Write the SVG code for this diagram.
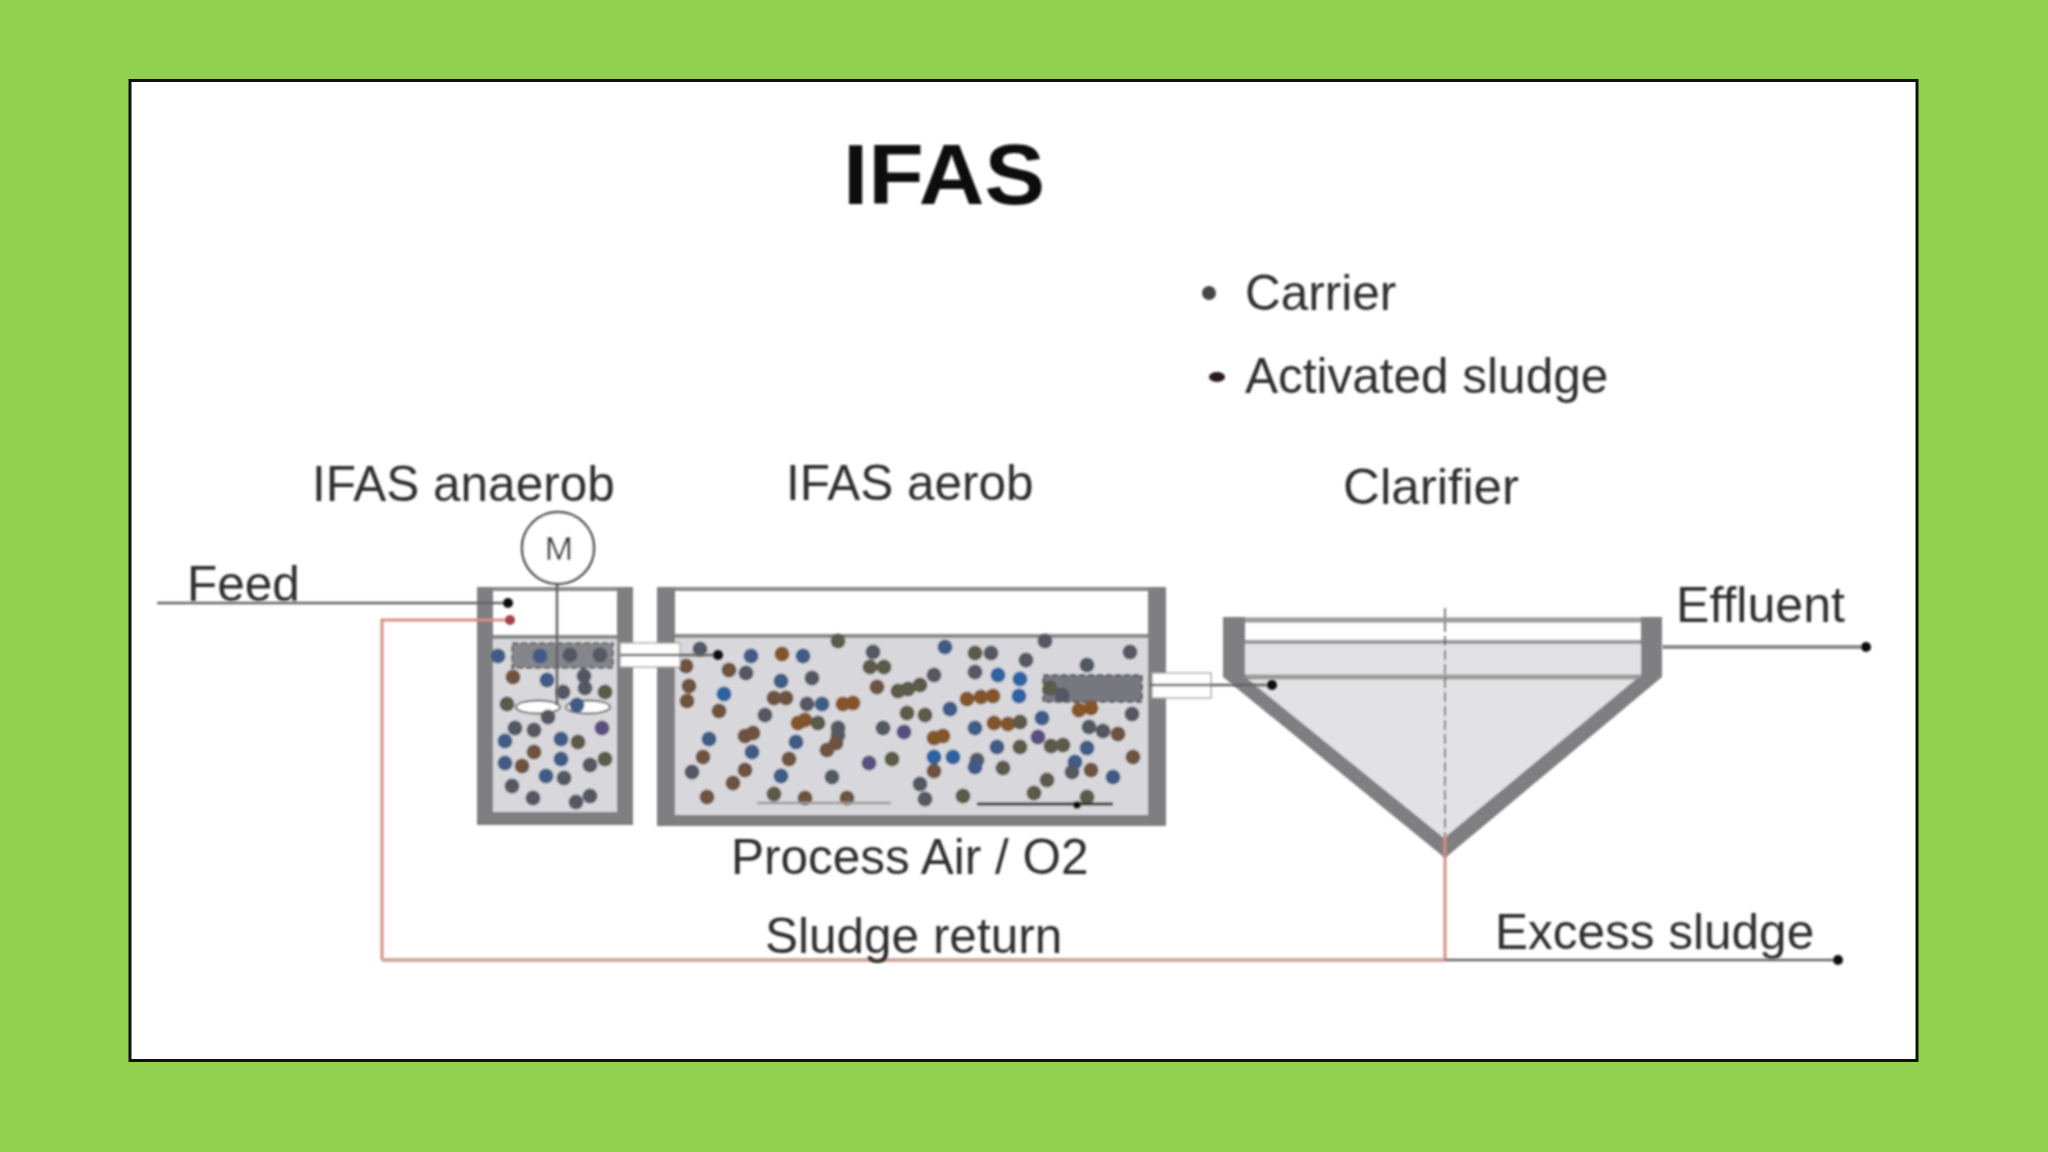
<svg xmlns="http://www.w3.org/2000/svg" width="2048" height="1152" viewBox="0 0 2048 1152">
<style>
text{font-family:"Liberation Sans",Arial,sans-serif;fill:#2e2e2e;font-size:49.500px}
.wall{fill:#7f7f82}
.water{fill:#d8d8dc}
.ln{stroke:#8a8a8a;stroke-width:4;fill:none}
.thin{stroke:#666;stroke-width:2.5;fill:none}
.ret{stroke:#d68f82;stroke-width:3;fill:none}
.head{fill:#111}
.br{fill:#6e5240}.bl{fill:#3f5c86}.g{fill:#545962}.o{fill:#5c5a48}.p{fill:#5a5080}.or{fill:#85552c}.bb{fill:#2f62a0}
.dots circle{r:7.5px}
</style>
<defs><filter id="soft" x="-5%" y="-5%" width="110%" height="110%"><feGaussianBlur stdDeviation="0.9"/></filter></defs>
<rect id="background" width="2048" height="1152" fill="#92d050"/>
<rect id="frame" x="130" y="80.500" width="1787" height="980" fill="#fff" stroke="#111" stroke-width="3"/>
<text id="title" x="843" y="204" textLength="202" lengthAdjust="spacingAndGlyphs" filter="url(#soft)" style="font-size:86px;font-weight:bold;fill:#111">IFAS</text>
<g id="legend" filter="url(#soft)">
<circle cx="1209" cy="293" r="7" fill="#444"/>
<text x="1245" y="310">Carrier</text>
<ellipse cx="1217" cy="377" rx="8" ry="5" fill="#2a1522"/>
<text x="1245" y="393">Activated sludge</text>
</g>
<g id="anaerob-tank" filter="url(#soft)">
<rect class="water" x="490" y="637" width="130" height="178"/>
<path class="ln" d="M493 589H617M493 637H617"/>
<path class="wall" d="M477 587h16v225h124v-225h16v238H477z"/>
<rect x="512" y="643" width="101" height="25" fill="#85858c" stroke="#666" stroke-width="2" stroke-dasharray="6 3"/>
<ellipse cx="538" cy="707" rx="22" ry="6.500" fill="#fff" stroke="#666" stroke-width="2"/>
<ellipse cx="588" cy="707" rx="22" ry="6.500" fill="#fff" stroke="#666" stroke-width="2"/>
<g class="dots">
<circle class="bl" cx="498" cy="656"/><circle class="bl" cx="540" cy="656"/><circle class="g" cx="570" cy="655"/><circle class="g" cx="600" cy="655"/><circle class="br" cx="513" cy="677"/><circle class="bl" cx="547" cy="680"/><circle class="g" cx="584" cy="676"/><circle class="g" cx="585" cy="688"/><circle class="g" cx="563" cy="692"/><circle class="o" cx="605" cy="692"/><circle class="o" cx="507" cy="704"/><circle class="g" cx="548" cy="717"/><circle class="bl" cx="577" cy="705"/><circle class="g" cx="515" cy="728"/><circle class="g" cx="534" cy="730"/><circle class="bl" cx="561" cy="739"/><circle class="p" cx="602" cy="728"/><circle class="bl" cx="505" cy="741"/><circle class="o" cx="578" cy="742"/><circle class="br" cx="534" cy="752"/><circle class="bl" cx="561" cy="759"/><circle class="bl" cx="505" cy="763"/><circle class="br" cx="522" cy="766"/><circle class="g" cx="590" cy="765"/><circle class="o" cx="605" cy="759"/><circle class="bl" cx="546" cy="776"/><circle class="g" cx="564" cy="778"/><circle class="g" cx="512" cy="786"/><circle class="g" cx="533" cy="798"/><circle class="g" cx="576" cy="802"/><circle class="g" cx="590" cy="796"/>
</g>
</g>
<g id="aerob-tank" filter="url(#soft)">
<rect class="water" x="675" y="637" width="473" height="178"/>
<path class="ln" d="M675 589H1148M675 636H1148"/>
<path class="wall" d="M657 587h18v228h473v-228h18v239H657z"/>
<rect x="1043" y="675" width="99" height="27" fill="#777780" stroke="#555" stroke-width="2" stroke-dasharray="6 3"/>
<g class="dots">
<circle class="g" cx="700" cy="649"/><circle class="bl" cx="751" cy="656"/><circle class="or" cx="782" cy="654"/><circle class="bl" cx="803" cy="656"/><circle class="o" cx="838" cy="641"/><circle class="g" cx="873" cy="652"/><circle class="bl" cx="945" cy="647"/><circle class="g" cx="1045" cy="641"/><circle class="g" cx="1130" cy="652"/><circle class="o" cx="975" cy="653"/><circle class="g" cx="991" cy="653"/><circle class="g" cx="1026" cy="660"/><circle class="g" cx="1087" cy="665"/><circle class="br" cx="686" cy="666"/><circle class="br" cx="729" cy="670"/><circle class="g" cx="746" cy="673"/><circle class="o" cx="870" cy="667"/><circle class="o" cx="884" cy="667"/><circle class="bl" cx="781" cy="681"/><circle class="g" cx="812" cy="678"/><circle class="g" cx="934" cy="675"/><circle class="g" cx="975" cy="672"/><circle class="bb" cx="998" cy="675"/><circle class="bb" cx="1020" cy="679"/><circle class="br" cx="689" cy="686"/><circle class="br" cx="687" cy="701"/><circle class="bb" cx="724" cy="694"/><circle class="br" cx="774" cy="698"/><circle class="br" cx="786" cy="698"/><circle class="g" cx="807" cy="704"/><circle class="bl" cx="822" cy="704"/><circle class="or" cx="843" cy="704"/><circle class="or" cx="853" cy="703"/><circle class="br" cx="877" cy="687"/><circle class="o" cx="898" cy="691"/><circle class="o" cx="908" cy="689"/><circle class="o" cx="920" cy="685"/><circle class="bb" cx="1019" cy="696"/><circle class="or" cx="967" cy="699"/><circle class="or" cx="981" cy="697"/><circle class="or" cx="993" cy="696"/><circle class="br" cx="719" cy="711"/><circle class="g" cx="765" cy="715"/><circle class="o" cx="907" cy="713"/><circle class="o" cx="925" cy="715"/><circle class="bl" cx="950" cy="709"/><circle class="bl" cx="1042" cy="718"/><circle class="g" cx="1132" cy="714"/><circle class="or" cx="1079" cy="710"/><circle class="or" cx="1091" cy="708"/><circle class="or" cx="798" cy="723"/><circle class="or" cx="805" cy="720"/><circle class="o" cx="818" cy="723"/><circle class="g" cx="838" cy="728"/><circle class="g" cx="838" cy="735"/><circle class="g" cx="883" cy="728"/><circle class="p" cx="904" cy="732"/><circle class="bl" cx="975" cy="728"/><circle class="or" cx="994" cy="723"/><circle class="or" cx="1008" cy="724"/><circle class="o" cx="1020" cy="722"/><circle class="g" cx="1089" cy="727"/><circle class="g" cx="1103" cy="731"/><circle class="br" cx="1118" cy="734"/><circle class="br" cx="753" cy="733"/><circle class="br" cx="745" cy="736"/><circle class="bl" cx="709" cy="739"/><circle class="bl" cx="796" cy="742"/><circle class="p" cx="1038" cy="737"/><circle class="or" cx="943" cy="736"/><circle class="or" cx="934" cy="738"/><circle class="br" cx="836" cy="743"/><circle class="br" cx="827" cy="750"/><circle class="bl" cx="752" cy="752"/><circle class="bl" cx="997" cy="747"/><circle class="o" cx="1020" cy="747"/><circle class="o" cx="1051" cy="746"/><circle class="o" cx="1063" cy="745"/><circle class="bl" cx="1087" cy="748"/><circle class="br" cx="703" cy="757"/><circle class="br" cx="789" cy="759"/><circle class="p" cx="869" cy="763"/><circle class="o" cx="892" cy="759"/><circle class="bb" cx="934" cy="757"/><circle class="bb" cx="953" cy="757"/><circle class="g" cx="977" cy="760"/><circle class="bl" cx="975" cy="767"/><circle class="o" cx="1003" cy="768"/><circle class="br" cx="1133" cy="757"/><circle class="bl" cx="1075" cy="762"/><circle class="g" cx="1072" cy="772"/><circle class="br" cx="1091" cy="770"/><circle class="g" cx="692" cy="772"/><circle class="br" cx="745" cy="770"/><circle class="bl" cx="781" cy="776"/><circle class="g" cx="832" cy="777"/><circle class="br" cx="934" cy="771"/><circle class="br" cx="733" cy="783"/><circle class="g" cx="920" cy="784"/><circle class="o" cx="1047" cy="780"/><circle class="bl" cx="1113" cy="777"/><circle class="br" cx="707" cy="797"/><circle class="o" cx="774" cy="794"/><circle class="br" cx="805" cy="798"/><circle class="br" cx="847" cy="798"/><circle class="g" cx="925" cy="799"/><circle class="o" cx="963" cy="796"/><circle class="o" cx="1034" cy="793"/><circle class="o" cx="1087" cy="797"/><circle class="o" cx="1050" cy="688"/><circle class="g" cx="1062" cy="695"/>
</g>
<path d="M757 803H891" stroke="#999" stroke-width="2.500" fill="none"/>
<path d="M977 804H1113" stroke="#333" stroke-width="3" fill="none"/>
<circle class="head" cx="1077" cy="805" r="4"/>
</g>
<g id="clarifier" filter="url(#soft)">
<path d="M1245 642H1642V680L1444 838 1245 680Z" fill="#e2e2e5"/>
<path d="M1245 620H1642" stroke="#9a9a9a" stroke-width="5" fill="none"/>
<path d="M1245 642H1642" stroke="#9a9a9a" stroke-width="4" fill="none"/>
<path d="M1245 677H1642" stroke="#9a9a9a" stroke-width="5" fill="none"/>
<path class="wall" d="M1223 617h22v60l199 161 191-158 6-3v-60h21v60L1445 858 1223 677z"/>
<path d="M1445 608V836" stroke="#555" stroke-width="1.500" stroke-dasharray="10 4" fill="none"/>
</g>
<g id="motor" filter="url(#soft)">
<path class="thin" d="M557 582V705"/>
<circle cx="558" cy="548" r="36" fill="#fff" stroke="#444" stroke-width="2.500"/>
<text x="559" y="560" text-anchor="middle" style="font-size:34px">M</text>
</g>
<g id="connectors" filter="url(#soft)">
<path class="thin" d="M157 603H508"/>
<circle class="head" cx="508" cy="603" r="5"/>
<path class="ret" d="M510 620H382V960"/>
<circle cx="510" cy="620" r="5" fill="#a8404a"/>
<path d="M382 960H1445" stroke="#cfa79d" stroke-width="4" fill="none"/>
<path class="ret" d="M1445 835V960"/>
<path class="thin" d="M1445 960H1835"/>
<circle class="head" cx="1838" cy="960" r="5"/>
<path class="ln" d="M1662 647H1862"/>
<circle class="head" cx="1866" cy="647" r="5"/>
<rect x="620" y="643" width="60" height="24" fill="#fff" stroke="#aaa" stroke-width="1.500"/>
<path class="thin" d="M620 655H716"/>
<circle class="head" cx="718" cy="655" r="5"/>
<rect x="1152" y="673" width="59" height="25" fill="#fff" stroke="#aaa" stroke-width="1.500"/>
<path class="thin" d="M1150 685H1270"/>
<circle class="head" cx="1272" cy="685" r="5"/>
</g>
<g id="labels" filter="url(#soft)">
<text x="312" y="501">IFAS anaerob</text>
<text x="786" y="500">IFAS aerob</text>
<text x="1343" y="504" textLength="176" lengthAdjust="spacingAndGlyphs">Clarifier</text>
<text x="187" y="601">Feed</text>
<text x="1676" y="622" textLength="169" lengthAdjust="spacingAndGlyphs">Effluent</text>
<text x="731" y="874">Process Air / O2</text>
<text x="765" y="953">Sludge return</text>
<text x="1495" y="949">Excess sludge</text>
</g>
</svg>
